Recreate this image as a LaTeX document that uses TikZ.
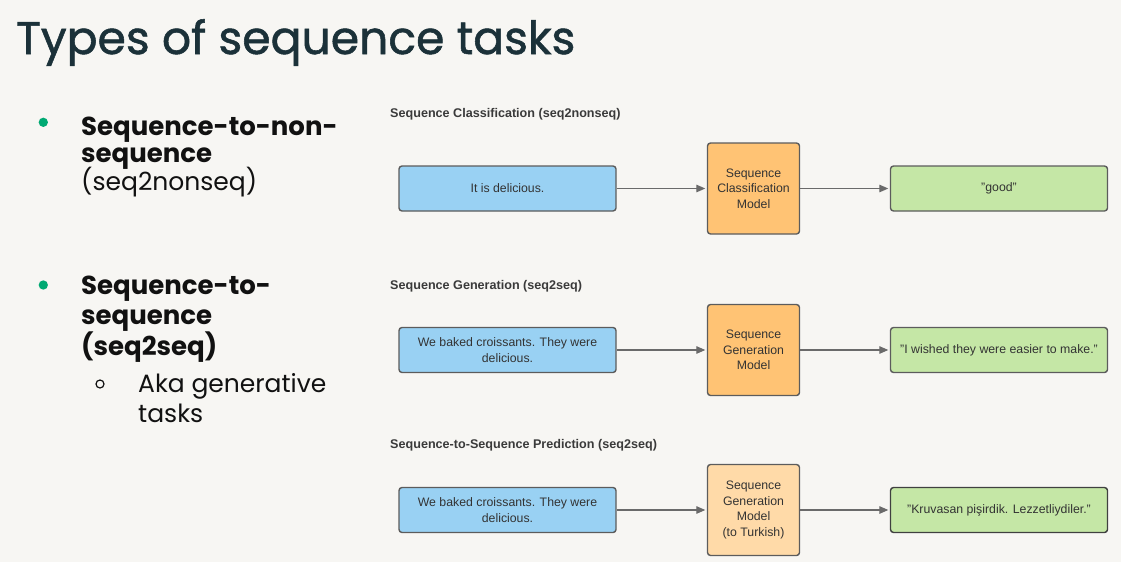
\documentclass[tikz,border=0pt]{standalone}
\usepackage{fontspec}
\setmainfont{Liberation Sans}
\newfontfamily\slidefont{Poppins}
\newfontfamily\headfont{Poppins}[FakeBold=1.2]
\usetikzlibrary{arrows.meta}

\definecolor{pagebg}{HTML}{F7F6F3}
\definecolor{titlenavy}{HTML}{1B3139}
\definecolor{bulletgreen}{HTML}{00A972}
\definecolor{bodyink}{HTML}{111111}
\definecolor{labelgray}{HTML}{3A3A3A}
\definecolor{boxline}{HTML}{5C5C5C}
\definecolor{boxtext}{HTML}{333333}
\definecolor{inblue}{HTML}{99D1F3}
\definecolor{modelorange}{HTML}{FFC374}
\definecolor{modellight}{HTML}{FFDAA8}
\definecolor{outgreen}{HTML}{C5E7A6}
\definecolor{arrowgray}{HTML}{6A6A6A}

\begin{document}
\begin{tikzpicture}[x=1pt,y=-1pt,
  heading/.style={anchor=base west, font=\headfont\fontsize{45.7}{50}\selectfont, text=titlenavy, inner sep=0pt},
  bodyline/.style={anchor=base west, font=\slidefont\fontsize{25}{28}\selectfont, text=bodyink, inner sep=0pt},
  boldline/.style={bodyline, font=\slidefont\bfseries\fontsize{26}{28}\selectfont},
  dot/.style={circle, fill=bulletgreen, minimum size=9.3pt, inner sep=0pt},
  ring/.style={circle, draw=bodyink, line width=1.2pt, minimum size=8pt, inner sep=0pt},
  caption/.style={anchor=west, font=\bfseries\fontsize{12.6}{14}\selectfont, text=labelgray, inner sep=0pt},
  box/.style={draw=boxline, line width=1.4pt, rounded corners=3pt, align=center,
    font=\fontsize{12.3}{15.5}\selectfont, text=boxtext, inner sep=2pt},
  inbox/.style={box, fill=inblue, minimum width=217pt, minimum height=45pt},
  modelbox/.style={box, fill=modelorange, minimum width=92pt, minimum height=91pt},
  outbox/.style={box, fill=outgreen, minimum width=217pt, minimum height=45pt},
  flow/.style={draw=arrowgray, line width=1.3pt, shorten >=1.5pt,
    -{Triangle[length=9pt,width=7.5pt]}}
]
\fill[pagebg] (0,0) rectangle (1121,562);
\useasboundingbox (0,0) rectangle (1121,562);

% slide heading
\node[heading] (title) at (16,54) {Types of sequence tasks};

% bullet list
\node[dot] (dot1) at (43.3,122.3) {};
\node[boldline] (b1a) at (81,135) {Sequence-to-non-};
\node[boldline] (b1b) at (81,162) {sequence};
\node[bodyline] (b1c) at (81,190) {(seq2nonseq)};

\node[dot] (dot2) at (43.3,285) {};
\node[boldline] (b2a) at (81,294) {Sequence-to-};
\node[boldline] (b2b) at (81,324) {sequence};
\node[boldline] (b2c) at (81,355) {(seq2seq)};
\node[ring] (ring1) at (100,384) {};
\node[bodyline] (b3a) at (138,392) {Aka generative};
\node[bodyline] (b3b) at (138,422) {tasks};

% row 1: classification
\node[caption] (cap1) at (390,114) {Sequence Classification (seq2nonseq)};
\node[inbox] (in1) at (507.5,188.5) {It is delicious.};
\node[modelbox] (m1) at (753.5,188.5) {Sequence\\Classification\\Model};
\node[outbox] (out1) at (999,188.5) {"good"};
\draw[flow] (in1) -- (m1);
\draw[flow] (m1) -- (out1);

% row 2: generation
\node[caption] (cap2) at (390,286) {Sequence Generation (seq2seq)};
\node[inbox] (in2) at (507.5,350) {We baked croissants. They were\\delicious.};
\node[modelbox] (m2) at (753.5,350) {Sequence\\Generation\\Model};
\node[outbox] (out2) at (999,350) {"I wished they were easier to make."};
\draw[flow] (in2) -- (m2);
\draw[flow] (m2) -- (out2);

% row 3: translation
\node[caption] (cap3) at (390,445) {Sequence-to-Sequence Prediction (seq2seq)};
\node[inbox] (in3) at (507.5,510) {We baked croissants. They were\\delicious.};
\node[modelbox, fill=modellight] (m3) at (753.5,510) {Sequence\\Generation\\Model\\(to Turkish)};
\node[outbox, draw=black!75] (out3) at (999,510) {"Kruvasan pişirdik. Lezzetliydiler."};
\draw[flow] (in3) -- (m3);
\draw[flow] (m3) -- (out3);
\end{tikzpicture}
\end{document}
